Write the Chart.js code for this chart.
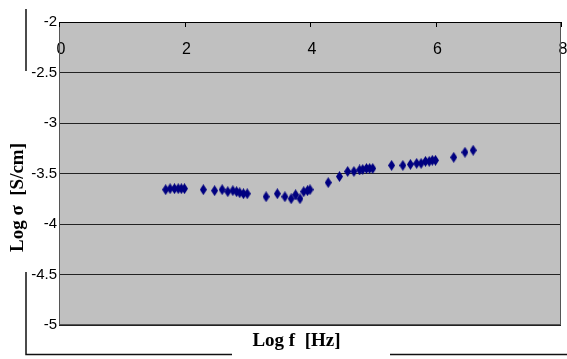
<!DOCTYPE html>
<html>
<head>
<meta charset="utf-8">
<script src="https://cdn.jsdelivr.net/npm/chart.js@4.4.0/dist/chart.umd.min.js"></script>
<style>
  html, body { margin: 0; padding: 0; background: #fff; }
  #wrap { width: 567px; height: 359px; }
</style>
</head>
<body>
<div id="wrap"><canvas id="condChart" width="567" height="359"></canvas></div>
<script>
// Log f [Hz]
var logF = [
    1.70, 1.77, 1.84, 1.90, 1.95, 2.00,
    2.30, 2.48, 2.60, 2.69, 2.77, 2.83, 2.88, 2.94, 3.00,
    3.30, 3.48, 3.60, 3.70, 3.77, 3.84, 3.90, 3.96, 4.00,
    4.29, 4.47, 4.60, 4.70, 4.79, 4.84, 4.90, 4.95, 5.00,
    5.30, 5.48, 5.60, 5.70, 5.77, 5.84, 5.90, 5.95, 6.00,
    6.29, 6.47, 6.60
];
// Log sigma [S/cm]
var logSigma = [
    -3.66, -3.65, -3.65, -3.65, -3.65, -3.65,
    -3.66, -3.67, -3.66, -3.68, -3.67, -3.68, -3.69, -3.70, -3.70,
    -3.73, -3.70, -3.73, -3.75, -3.71, -3.75, -3.68, -3.67, -3.66,
    -3.59, -3.53, -3.48, -3.48, -3.465, -3.46, -3.45, -3.45, -3.45,
    -3.42, -3.42, -3.41, -3.40, -3.40, -3.38, -3.38, -3.37, -3.37,
    -3.34, -3.29, -3.27
];
var xTicks = [0, 2, 4, 6, 8];
var yTicks = [-2, -2.5, -3, -3.5, -4, -4.5, -5];

var xTitle = 'Log f  [Hz]';
var yTitle = 'Log \u03c3  [S/cm]';

// elongated diamond marker
function makeDiamond(w, h, color) {
    var c = document.createElement('canvas');
    c.width = w;
    c.height = h;
    var g = c.getContext('2d');
    g.fillStyle = color;
    g.beginPath();
    g.moveTo(w / 2, 0);
    g.lineTo(w, h / 2);
    g.lineTo(w / 2, h);
    g.lineTo(0, h / 2);
    g.closePath();
    g.fill();
    return c;
}

var points = logF.map((f, i) => ({ x: f, y: logSigma[i] }));

var decorPlugin = {
    id: 'decor',
    beforeDraw(chart) {
        var a = chart.chartArea;
        var ctx = chart.ctx;
        ctx.save();
        ctx.fillStyle = '#c0c0c0';
        ctx.fillRect(a.left, a.top, a.right - a.left, a.bottom - a.top);
        ctx.restore();
    },
    afterDraw(chart) {
        var a = chart.chartArea;
        var ctx = chart.ctx;
        var xs = chart.scales.x;
        ctx.save();
        // plot frame
        ctx.strokeStyle = '#555';
        ctx.lineWidth = 1;
        ctx.strokeRect(a.left + 0.5, a.top + 0.5, a.right - a.left - 1, a.bottom - a.top - 1);
        ctx.strokeStyle = '#000';
        ctx.beginPath();
        ctx.moveTo(a.left, a.top + 0.5);
        ctx.lineTo(a.right, a.top + 0.5);
        ctx.stroke();
        // small tick marks hanging from the top axis
        xTicks.forEach((t) => {
            var px = Math.round(xs.getPixelForValue(t)) + 0.5;
            ctx.beginPath();
            ctx.moveTo(px, a.top);
            ctx.lineTo(px, a.top + 5);
            ctx.stroke();
        });
        // outer frame, broken by the titles
        ctx.strokeStyle = '#111';
        ctx.lineWidth = 1.5;
        ctx.beginPath();
        ctx.moveTo(26, 9);
        ctx.lineTo(26, 71);
        ctx.moveTo(26, 272);
        ctx.lineTo(26, 354.5);
        ctx.lineTo(232, 354.5);
        ctx.moveTo(390, 354.5);
        ctx.lineTo(567, 354.5);
        ctx.stroke();
        // axis titles
        ctx.fillStyle = '#000';
        ctx.font = 'bold 19px "Liberation Serif", "Times New Roman", serif';
        ctx.textAlign = 'center';
        ctx.textBaseline = 'middle';
        ctx.fillText(xTitle, 296.5, 341);
        ctx.translate(18.5, 197.5);
        ctx.rotate(-Math.PI / 2);
        ctx.fillText(yTitle, 0, 0);
        ctx.restore();
    }
};

function noPad(scale) {
    scale.paddingLeft = 0;
    scale.paddingRight = 0;
    scale.paddingTop = 0;
    scale.paddingBottom = 0;
}

var ctx = document.getElementById('condChart');
var chart = new Chart(ctx, {
    type: 'scatter',
    data: {
        datasets: [{
            data: points,
            pointStyle: makeDiamond(7, 11, '#000080'),
            pointRadius: 5,
            showLine: false
        }]
    },
    options: {
        responsive: false,
        animation: false,
        layout: { padding: { left: 0, right: 4, top: 0, bottom: 34 } },
        plugins: {
            legend: { display: false },
            tooltip: { enabled: false }
        },
        scales: {
            x: {
                type: 'linear',
                position: 'top',
                min: 0,
                max: 8,
                afterBuildTicks: (scale) => { scale.ticks = xTicks.map(v => ({ value: v })); },
                afterFit: (scale) => { scale.height = 22; noPad(scale); },
                grid: { display: false, drawTicks: false },
                border: { display: false },
                ticks: {
                    color: '#000',
                    font: { family: '"Liberation Sans", Arial, sans-serif', size: 16 },
                    mirror: true,   // draws the labels inside the plot, unclipped
                    padding: 18,
                    labelOffset: 2,
                    maxRotation: 0,
                    callback: (v) => String(v)
                }
            },
            y: {
                type: 'linear',
                min: -5,
                max: -2,
                afterBuildTicks: (scale) => { scale.ticks = yTicks.map(v => ({ value: v })); },
                afterFit: (scale) => { scale.width = 59; noPad(scale); },
                grid: { color: '#222', lineWidth: 1, drawTicks: false },
                border: { display: false },
                ticks: {
                    color: '#000',
                    font: { family: '"Liberation Sans", Arial, sans-serif', size: 15 },
                    padding: 2,
                    callback: (v) => String(v)
                }
            }
        }
    },
    plugins: [decorPlugin]
});
</script>
</body>
</html>
